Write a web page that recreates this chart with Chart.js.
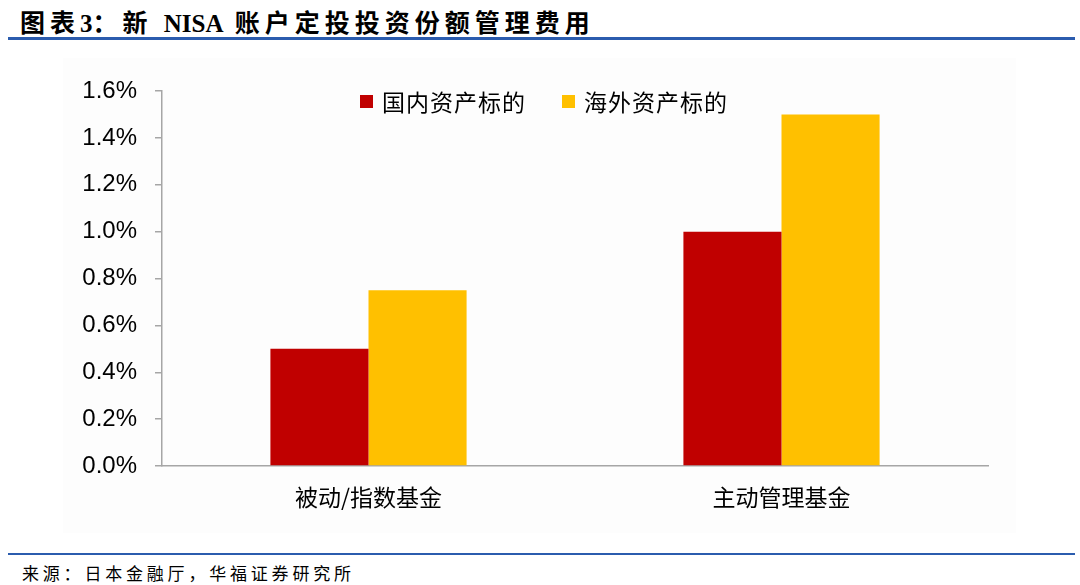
<!DOCTYPE html>
<html>
<head>
<meta charset="utf-8">
<script src="https://cdn.jsdelivr.net/npm/chart.js@4/dist/chart.umd.min.js"></script>
<style>
  body { margin: 0; width: 1080px; height: 585px; background: #fff; position: relative; overflow: hidden; font-family: "Noto Sans CJK SC", sans-serif; }
  .title { position: absolute; left: 20px; top: 3px; font: bold 25px "Liberation Serif", "Noto Sans CJK SC", serif; letter-spacing: 5px; color: #000; white-space: nowrap; }
  .title .latin { letter-spacing: 0; }
  .rule { position: absolute; left: 8px; width: 1067px; height: 3px; background: #2b5cae; }
  .box { position: absolute; left: 63px; top: 58px; width: 953px; height: 475px; background: #fdfdfd; }
  .legend { position: absolute; left: 360px; top: 84px; display: flex; align-items: center; font-size: 23px; letter-spacing: 1px; color: #000; }
  .legend span.sw { display: inline-block; width: 13px; height: 13px; margin-right: 9px; }
  .legend .item { display: flex; align-items: center; margin-right: 36px; }
  .source { position: absolute; left: 22px; top: 560px; font-size: 17px; letter-spacing: 3.8px; color: #000; white-space: nowrap; }
</style>
</head>
<body>
<div class="title">图表<span class="latin">3</span>：新 <span class="latin">NISA</span> 账户定投投资份额管理费用</div>
<div class="rule" style="top:37px"></div>
<div class="box"><canvas id="feeChart"></canvas></div>
<div class="legend" id="legend"></div>
<div class="rule" style="top:553px;height:2px"></div>
<div class="source">来源：日本金融厅，华福证券研究所</div>
<script>
// 分类和数值（单位：%）
const categories = ['被动/指数基金', '主动管理基金'];
const seriesNames = ['国内资产标的', '海外资产标的'];
const domesticFee = [0.5, 1.0];
const overseasFee = [0.75, 1.5];
const yTicks = [0, 0.2, 0.4, 0.6, 0.8, 1.0, 1.2, 1.4, 1.6];
const colors = ['#C00000', '#FFC000'];

const seriesValues = [domesticFee, overseasFee];

// legend as html
const legendEl = document.getElementById('legend');
seriesNames.forEach((name, i) => {
  const item = document.createElement('div');
  item.className = 'item';
  item.innerHTML = '<span class="sw" style="background:' + colors[i] + '"></span>' + name;
  legendEl.appendChild(item);
});

const ctx = document.getElementById('feeChart').getContext('2d');
new Chart(ctx, {
  type: 'bar',
  data: {
    labels: categories,
    datasets: seriesNames.map((name, i) => ({
      label: name,
      data: seriesValues[i],
      backgroundColor: colors[i],
      borderWidth: 0,
      categoryPercentage: 0.475,
      barPercentage: 1
    }))
  },
  options: {
    responsive: true,
    maintainAspectRatio: false,
    animation: false,
    layout: { padding: { top: 33, right: 28, left: 0, bottom: 0 } },
    plugins: {
      legend: { display: false },
      tooltip: { enabled: false }
    },
    scales: {
      x: {
        grid: { display: true, drawOnChartArea: false, drawTicks: false },
        border: { display: true, color: '#a6a6a6', width: 1.5 },
        ticks: {
          color: '#000',
          padding: 17,
          font: { family: '"Noto Sans CJK SC"', size: 23 }
        },
        afterFit: scale => { scale.height = 67; }
      },
      y: {
        min: 0,
        max: 1.6,
        afterBuildTicks: scale => { scale.ticks = yTicks.map(v => ({ value: v })); },
        grid: { display: true, drawOnChartArea: false, drawTicks: true, tickLength: 7, color: '#a6a6a6', lineWidth: 1.5 },
        border: { display: true, color: '#a6a6a6', width: 1.5 },
        ticks: {
          color: '#000',
          padding: 18,
          font: { family: '"Liberation Sans", Arial', size: 24 },
          callback: value => value.toFixed(1) + '%'
        },
        afterFit: scale => { scale.width = 99; }
      }
    }
  }
});
</script>
</body>
</html>
